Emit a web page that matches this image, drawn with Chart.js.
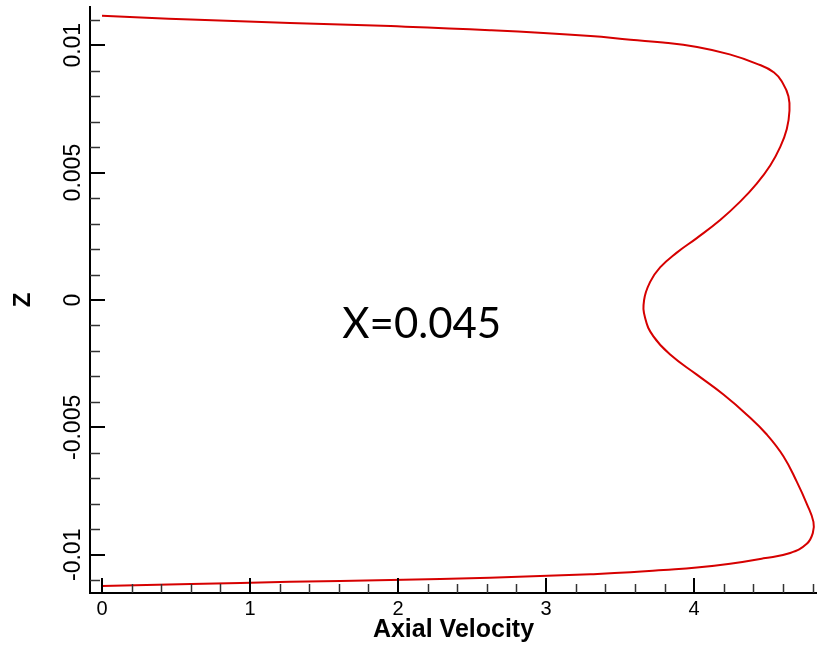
<!DOCTYPE html>
<html>
<head>
<meta charset="utf-8">
<title>Axial Velocity profile</title>
<script src="https://cdn.jsdelivr.net/npm/chart.js@4.4.1/dist/chart.umd.min.js"></script>
<style>
  html, body { margin: 0; padding: 0; background: #fff; }
  #wrap { width: 817px; height: 649px; }
</style>
</head>
<body>
<div id="wrap"><canvas id="grafica" width="817" height="649"></canvas></div>
<script>
const velocity = [
  0, 0.3, 0.6, 1.27, 1.95, 2.62, 3.3, 3.57, 3.79, 4.02, 4.24, 4.42, 4.54, 4.6, 4.637,
  4.644, 4.626, 4.581, 4.514, 4.423, 4.311, 4.176, 4.018, 3.883, 3.77, 3.703, 3.662,
  3.669, 3.725, 3.838, 4.018, 4.198, 4.356, 4.491, 4.604, 4.694, 4.761, 4.806, 4.802,
  4.761, 4.649, 4.468, 4.243, 4.018, 3.793, 3.57, 3.3, 2.62, 1.95, 1.27, 0.6, 0.3, 0
];
const zCoord = [
  0.01116, 0.01108, 0.01101, 0.01087, 0.01075, 0.01059, 0.01036, 0.01021, 0.01011, 0.00993, 0.00964, 0.00928, 0.00893, 0.0085, 0.008,
  0.00743, 0.00671, 0.006, 0.00528, 0.00457, 0.00386, 0.00314, 0.00243, 0.00186, 0.00128, 0.00071, 0,
  -0.00071, -0.00143, -0.00214, -0.00293, -0.00371, -0.0045, -0.00528, -0.00614, -0.00714, -0.008, -0.00871, -0.00914,
  -0.00957, -0.00993, -0.01014, -0.01035, -0.0105, -0.0106, -0.01069, -0.01076, -0.0109, -0.01099, -0.01106, -0.01115, -0.01119, -0.01123
];

// ejes
const xTicks = [0, 1, 2, 3, 4];
const xTickLabels = ["0", "1", "2", "3", "4"];
const yTicks = [0.01, 0.005, 0, -0.005, -0.01];
const yTickLabels = ["0.01", "0.005", "0", "-0.005", "-0.01"];
const xRange = [-0.081, 4.83];
const yRange = [-0.0115, 0.0115];
const xMinorStep = 0.2;
const yMinorStep = 0.001;

// texto de la anotacion
const labelText = "X=0.045";
const labelPos = { x: 2.16, y: -0.0015 };

const FONT = "'Liberation Sans', Arial, sans-serif";

// Ticks hacia adentro (mayores y menores)
const ticksAdentro = {
  id: "ticksAdentro",
  afterDraw(chart) {
    const { ctx, chartArea, scales } = chart;
    const xs = scales.x, ys = scales.y;
    ctx.save();
    ctx.lineCap = "butt";

    // menores
    ctx.strokeStyle = "#333";
    ctx.lineWidth = 1.5;
    for (let i = 0; i * xMinorStep <= xRange[1] + 1e-9; i++) {
      if (i % 5 === 0) continue;
      const px = Math.round(xs.getPixelForValue(i * xMinorStep)) + 0.5;
      ctx.beginPath();
      ctx.moveTo(px, chartArea.bottom);
      ctx.lineTo(px, chartArea.bottom - 9);
      ctx.stroke();
    }
    for (let i = -11; i <= 11; i++) {
      if (i % 5 === 0) continue;
      const py = Math.round(ys.getPixelForValue(i * yMinorStep)) + 0.5;
      ctx.beginPath();
      ctx.moveTo(chartArea.left, py);
      ctx.lineTo(chartArea.left + 10, py);
      ctx.stroke();
    }

    // mayores
    ctx.strokeStyle = "#000";
    ctx.lineWidth = 2;
    xTicks.forEach((v) => {
      const px = Math.round(xs.getPixelForValue(v));
      ctx.beginPath();
      ctx.moveTo(px, chartArea.bottom);
      ctx.lineTo(px, chartArea.bottom - 15);
      ctx.stroke();
    });
    yTicks.forEach((v) => {
      const py = Math.round(ys.getPixelForValue(v));
      ctx.beginPath();
      ctx.moveTo(chartArea.left, py);
      ctx.lineTo(chartArea.left + 15, py);
      ctx.stroke();
    });
    ctx.restore();
  },
};

// Anotacion X=0.045
const anotacion = {
  id: "anotacion",
  afterDraw(chart) {
    const { ctx, scales } = chart;
    ctx.save();
    ctx.font = "42px Lato, 'Open Sans', sans-serif";
    ctx.fillStyle = "#000";
    ctx.textAlign = "center";
    ctx.textBaseline = "alphabetic";
    ctx.fillText(labelText, scales.x.getPixelForValue(labelPos.x), scales.y.getPixelForValue(labelPos.y));
    ctx.restore();
  },
};

const puntos = velocity.map((v, i) => ({ x: v, y: zCoord[i] }));

new Chart(document.getElementById("grafica"), {
  type: "scatter",
  data: {
    datasets: [
      {
        data: puntos,
        showLine: true,
        borderColor: "#d60000",
        borderWidth: 2,
        pointRadius: 0,
        tension: 0.45,
        fill: false,
      },
    ],
  },
  options: {
    responsive: false,
    animation: false,
    layout: { padding: { top: 7, right: 0, bottom: 0, left: 0 } },
    plugins: {
      legend: { display: false },
      tooltip: { enabled: false },
    },
    scales: {
      x: {
        type: "linear",
        min: xRange[0],
        max: xRange[1],
        afterBuildTicks: (scale) => { scale.ticks = xTicks.map((v) => ({ value: v })); },
        afterFit: (scale) => { scale.height = 56; },
        grid: { display: true, drawOnChartArea: false, drawTicks: false },
        border: { display: true, color: "#000", width: 2 },
        ticks: {
          color: "#000",
          font: { family: FONT, size: 20 },
          padding: 4,
          maxRotation: 0,
          callback: (v, i) => xTickLabels[i],
        },
        title: {
          display: true,
          text: "Axial Velocity",
          color: "#000",
          font: { family: FONT, size: 25, weight: "bold" },
          padding: { top: 0, bottom: 4 },
        },
      },
      y: {
        type: "linear",
        min: yRange[0],
        max: yRange[1],
        afterBuildTicks: (scale) => { scale.ticks = yTicks.map((v) => ({ value: v })); },
        afterFit: (scale) => { scale.width = 90; },
        grid: { display: true, drawOnChartArea: false, drawTicks: false },
        border: { display: true, color: "#000", width: 2 },
        ticks: {
          color: "#000",
          font: { family: FONT, size: 23 },
          minRotation: 90,
          maxRotation: 90,
          crossAlign: "center",
          padding: -16,
          callback: (v, i) => yTickLabels[i],
        },
        title: {
          display: true,
          text: "Z",
          color: "#000",
          font: { family: FONT, size: 24, weight: "bold" },
          padding: { top: 9, bottom: 0 },
        },
      },
    },
  },
  plugins: [ticksAdentro, anotacion],
});
</script>
</body>
</html>
